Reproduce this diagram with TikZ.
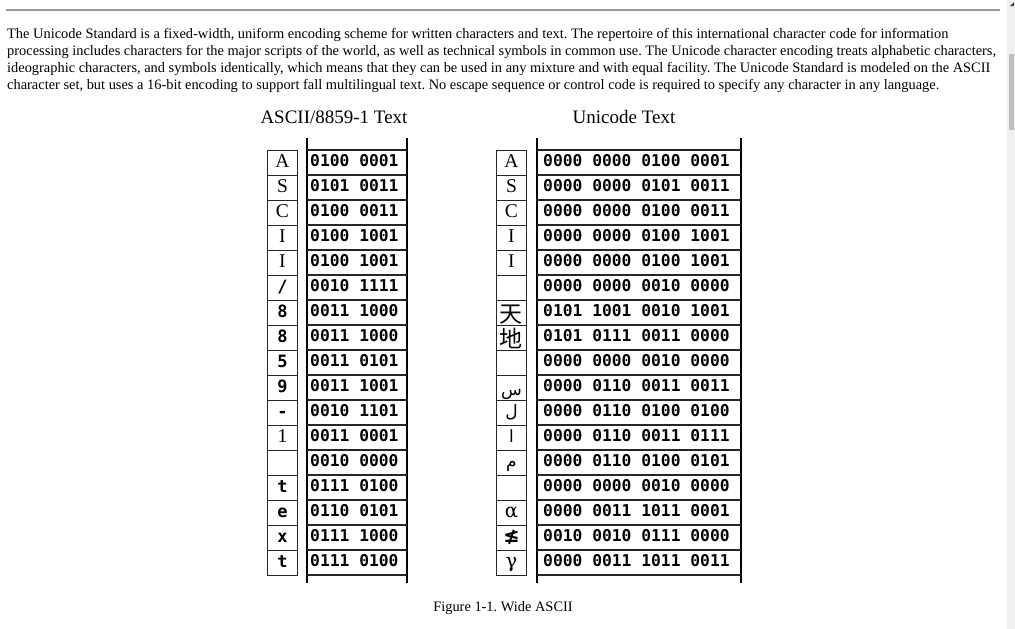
\documentclass[tikz,border=0pt]{standalone}
\usepackage{fontspec}
\setmainfont{Liberation Serif}
\newfontfamily\codefont{DejaVu Sans Mono}
\newfontfamily\cjkfont{Noto Sans CJK SC}
\newfontfamily\arabicfont[Script=Arabic]{DejaVu Sans}
\newfontfamily\greekfont{DejaVu Serif}
\newfontfamily\symfont{DejaVu Sans}
\TeXXeTstate=1
\usepackage{tikz}
\usetikzlibrary{positioning}

% glyphs that the scan sets in other faces
\newcommand\monoch[1]{{\codefont\bfseries\fontsize{17}{19}\selectfont #1}}
\newcommand\hanch[1]{\raisebox{-5pt}{\cjkfont\fontsize{23}{25}\selectfont #1}}
\newcommand\arabch[1]{{\arabicfont\fontsize{17}{19}\selectfont\beginR #1\endR}}

\tikzset{
    bodytext/.style = {anchor=base west, inner sep=0pt, font=\fontsize{14.4}{16}\selectfont\frenchspacing},
    heading/.style = {anchor=base, inner sep=0pt, font=\fontsize{19}{21}\selectfont},
    charbox/.style = {rectangle, draw=black!85, line width=0.9pt, anchor=north west,
        minimum width=30pt, minimum height=25pt, inner sep=0pt,
        text height=15pt, text depth=5pt, font=\fontsize{19.5}{21}\selectfont},
    bits/.style = {anchor=base west, inner sep=0pt, font=\codefont\bfseries\fontsize{16.3}{18}\selectfont},
    rail/.style = {line width=2.4pt, black},
    rowline/.style = {line width=1.2pt, black!85},
    pagerule/.style = {line width=1.5pt, black!40}
}

\begin{document}
\begin{tikzpicture}[x=1pt, y=-1pt]
\useasboundingbox[fill=white] (0,0) rectangle (1015,629);

% page furniture
\draw[pagerule] (6,10) -- (1000,10);
\fill[black!6] (1007,0) rectangle (1015,629);
\fill[black!25] (1009,54) rectangle (1014,130);
\fill[black!75] (1010,6) -- (1014,6) -- (1014,2) -- cycle;

\node[bodytext] (line1) at (7,38) {The Unicode Standard is a fixed-width, uniform encoding scheme for written characters and text. The repertoire of this international character code for information};
\node[bodytext] (line2) at (7,55) {processing includes characters for the major scripts of the world, as well as technical symbols in common use. The Unicode character encoding treats alphabetic characters,};
\node[bodytext] (line3) at (7,72) {ideographic characters, and symbols identically, which means that they can be used in any mixture and with equal facility. The Unicode Standard is modeled on the ASCII};
\node[bodytext] (line4) at (7,89) {character set, but uses a 16-bit encoding to support fall multilingual text. No escape sequence or control code is required to specify any character in any language.};

\node[heading] (asciihead) at (334,123) {ASCII/8859-1 Text};
\node[heading] (unihead) at (624,123) {Unicode Text};

% ASCII table
\draw[rail] (307,138) -- (307,583);
\draw[rail] (407,138) -- (407,583);
\foreach \i in {0,...,17}
    \draw[rowline] (307,{150+25*\i}) -- (407,{150+25*\i});
\foreach \ch/\code [count=\i from 0] in {A/0100 0001, S/0101 0011, C/0100 0011, I/0100 1001, I/0100 1001,
        {\monoch{/}}/0010 1111, {\monoch{8}}/0011 1000, {\monoch{8}}/0011 1000, {\monoch{5}}/0011 0101,
        {\monoch{9}}/0011 1001, {\monoch{-}}/0010 1101, 1/0011 0001, /0010 0000,
        {\monoch{t}}/0111 0100, {\monoch{e}}/0110 0101, {\monoch{x}}/0111 1000, {\monoch{t}}/0111 0100} {
    \node[charbox] (asciichar\i) at (267,{150+25*\i}) {\ch};
    \node[bits] (asciibits\i) at (310,{166+25*\i}) {\code};
}

% Unicode table
\draw[rail] (537,138) -- (537,583);
\draw[rail] (741,138) -- (741,583);
\foreach \i in {0,...,17}
    \draw[rowline] (537,{150+25*\i}) -- (741,{150+25*\i});
\foreach \ch/\code [count=\i from 0] in {A/0000 0000 0100 0001, S/0000 0000 0101 0011, C/0000 0000 0100 0011,
        I/0000 0000 0100 1001, I/0000 0000 0100 1001, /0000 0000 0010 0000,
        {\hanch{天}}/0101 1001 0010 1001, {\hanch{地}}/0101 0111 0011 0000, /0000 0000 0010 0000,
        {\raisebox{-3pt}{\arabch{س}}}/0000 0110 0011 0011, {\arabch{ل}}/0000 0110 0100 0100,
        {\arabch{ا}}/0000 0110 0011 0111, {\arabch{م}}/0000 0110 0100 0101, /0000 0000 0010 0000,
        {{\greekfont α}}/0000 0011 1011 0001, {{\symfont\bfseries ≰}}/0010 0010 0111 0000,
        {{\greekfont γ}}/0000 0011 1011 0011} {
    \node[charbox] (unichar\i) at (496,{150+25*\i}) {\ch};
    \node[bits] (unibits\i) at (543,{166+25*\i}) {\code};
}

\node[bodytext, anchor=base] (caption) at (503,611) {Figure 1-1. Wide ASCII};
\end{tikzpicture}
\end{document}
